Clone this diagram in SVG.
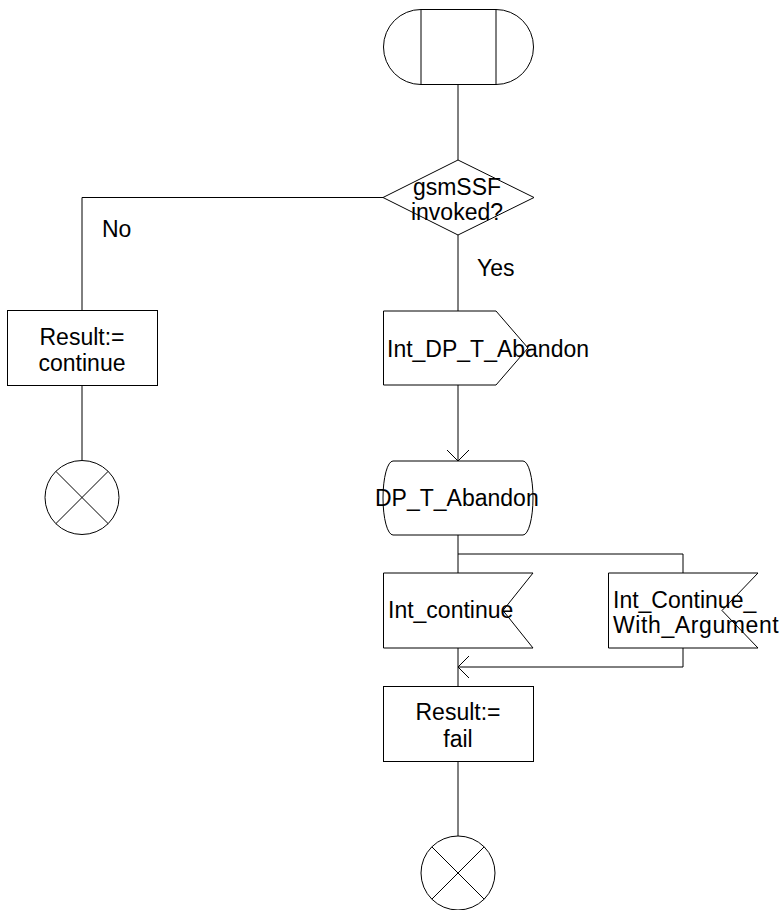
<svg xmlns="http://www.w3.org/2000/svg" width="781" height="910" viewBox="0 0 781 910">
<style>
.s{fill:#fff;stroke:#000;stroke-width:1}
.l{fill:none;stroke:#000;stroke-width:1}
.t{font-family:"Liberation Sans",Arial,sans-serif;font-size:23px;fill:#000}
.c{text-anchor:middle}
</style>
<rect width="781" height="910" fill="#fff"/>
<g id="connectors">
<line class="l" x1="458" y1="84" x2="458" y2="160"/>
<polyline class="l" points="383,197.5 82,197.5 82,310"/>
<line class="l" x1="82" y1="385" x2="82" y2="460"/>
<line class="l" x1="458" y1="235" x2="458" y2="311"/>
<line class="l" x1="458" y1="385" x2="458" y2="461"/>
<polyline class="l" points="447,450 458,461 469,450"/>
<line class="l" x1="458" y1="535" x2="458" y2="573"/>
<polyline class="l" points="458,554 683,554 683,573"/>
<line class="l" x1="458" y1="648" x2="458" y2="686"/>
<polyline class="l" points="683,648 683,667 458,667"/>
<polyline class="l" points="469,656 458,667 469,678"/>
<line class="l" x1="458" y1="761" x2="458" y2="836"/>
</g>
<g id="start">
<rect class="s" x="383.5" y="9.5" width="150" height="75" rx="37.5" ry="37.5"/>
<line class="l" x1="421" y1="9.5" x2="421" y2="84.5"/>
<line class="l" x1="496" y1="9.5" x2="496" y2="84.5"/>
</g>
<g id="decision">
<polygon class="s" points="458,160 534,197.5 458,235 383,197.5"/>
<text class="t c" x="457" y="195">gsmSSF</text>
<text class="t c" x="457" y="220">invoked?</text>
</g>
<text class="t" x="102" y="237">No</text>
<text class="t" x="477" y="276">Yes</text>
<g id="result_continue">
<rect class="s" x="7.5" y="310.5" width="150" height="75"/>
<text class="t c" x="82" y="345">Result:=</text>
<text class="t c" x="82" y="371">continue</text>
</g>
<g id="stop_left">
<circle class="s" cx="82" cy="497.5" r="37"/>
<line class="l" x1="55.8" y1="471.3" x2="108.2" y2="523.7"/>
<line class="l" x1="108.2" y1="471.3" x2="55.8" y2="523.7"/>
</g>
<g id="int_dp_t_abandon">
<polygon class="s" points="383.5,311 496,311 528,348 496,385 383.5,385"/>
<text class="t" x="387" y="357">Int_DP_T_Abandon</text>
</g>
<g id="dp_t_abandon">
<path class="s" d="M393,461 L523,461 A10,37 0 0 1 523,535 L393,535 A10,37 0 0 1 393,461 Z"/>
<text class="t" x="375" y="506">DP_T_Abandon</text>
</g>
<g id="int_continue">
<polygon class="s" points="383.5,573 533,573 503,610.5 533,648 383.5,648"/>
<text class="t" x="388" y="618">Int_continue</text>
</g>
<g id="int_continue_with_argument">
<polygon class="s" points="608.5,573 758,573 722,610.5 758,648 608.5,648"/>
<text class="t" x="613" y="608">Int_Continue_</text>
<text class="t" x="613" y="633" letter-spacing="0.6">With_Argument</text>
</g>
<g id="result_fail">
<rect class="s" x="383.5" y="686.5" width="150" height="75"/>
<text class="t c" x="458" y="720">Result:=</text>
<text class="t c" x="458" y="747">fail</text>
</g>
<g id="stop_bottom">
<circle class="s" cx="458" cy="873" r="37"/>
<line class="l" x1="431.8" y1="846.8" x2="484.2" y2="899.2"/>
<line class="l" x1="484.2" y1="846.8" x2="431.8" y2="899.2"/>
</g>
</svg>
